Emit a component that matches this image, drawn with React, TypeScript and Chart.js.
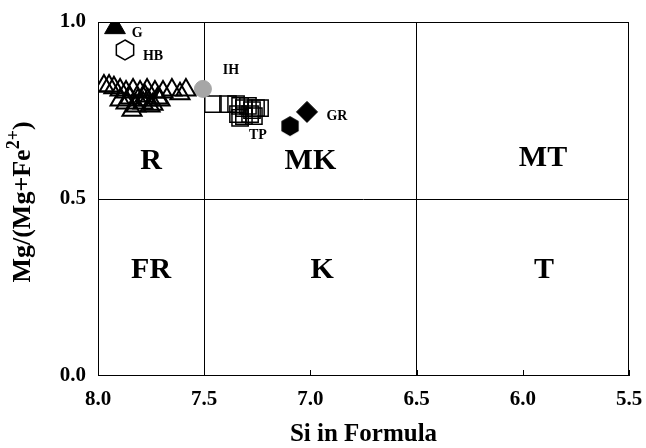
import React, { useEffect, useRef } from "react";
import { Chart, registerables } from "chart.js";

Chart.register(...registerables);

// ---- axes ----
const xTickValues = [8.0, 7.5, 7.0, 6.5, 6.0, 5.5];
const yTickValues = [0.0, 0.5, 1.0];
const xDividers = [7.5, 6.5];
const yDividers = [0.5];
const xTitle = "Si in Formula";
const yTitleMain = "Mg/(Mg+Fe";
const yTitleSup = "2+";
const yTitleEnd = ")";

// ---- data (Si in formula, Mg/(Mg+Fe2+)) ----
const triSi = [7.972, 7.948, 7.925, 7.896, 7.868, 7.835, 7.802, 7.769, 7.732, 7.694, 7.652, 7.614, 7.586, 7.896, 7.868, 7.84, 7.812, 7.788, 7.765, 7.741, 7.718, 7.849, 7.821, 7.779, 7.755, 7.708];
const triMg = [0.819, 0.819, 0.814, 0.808, 0.802, 0.808, 0.802, 0.808, 0.802, 0.802, 0.808, 0.797, 0.808, 0.78, 0.771, 0.751, 0.78, 0.771, 0.78, 0.768, 0.785, 0.785, 0.763, 0.791, 0.763, 0.78];

const sqSi = [7.459, 7.388, 7.35, 7.331, 7.313, 7.294, 7.275, 7.256, 7.237, 7.331, 7.341, 7.313, 7.284, 7.266];
const sqMg = [0.768, 0.768, 0.768, 0.763, 0.757, 0.763, 0.751, 0.757, 0.757, 0.729, 0.74, 0.734, 0.74, 0.734];

const gSi = [7.92];
const gMg = [0.984];
const hbSi = [7.873];
const hbMg = [0.921];
const ihSi = [7.506];
const ihMg = [0.811];
const hexSi = [7.096];
const hexMg = [0.706];
const grSi = [7.016];
const grMg = [0.746];

// ---- annotation labels ----
const pointLabels = ["G", "HB", "IH", "TP", "GR"];
const pointLabelSi = [7.816, 7.741, 7.374, 7.247, 6.875];
const pointLabelMg = [0.969, 0.904, 0.862, 0.681, 0.732];

const fieldLabels = ["R", "MK", "MT", "FR", "K", "T"];
const fieldLabelSi = [7.75, 7.0, 5.905, 7.75, 6.945, 5.9];
const fieldLabelMg = [0.608, 0.608, 0.616, 0.299, 0.299, 0.299];

const SERIF = '"Liberation Serif", "Times New Roman", serif';

function zip(xs: number[], ys: number[]) {
  return xs.map((x, i) => ({ x, y: ys[i] }));
}

function makeHexagon(r: number, filled: boolean): HTMLCanvasElement {
  const c = document.createElement("canvas");
  const size = Math.ceil(r * 2 + 4);
  c.width = size;
  c.height = size;
  const ctx = c.getContext("2d")!;
  const cx = size / 2;
  const cy = size / 2;
  ctx.beginPath();
  for (let i = 0; i < 6; i++) {
    const a = (Math.PI / 3) * i - Math.PI / 2;
    const px = cx + r * Math.cos(a);
    const py = cy + r * Math.sin(a);
    if (i === 0) ctx.moveTo(px, py);
    else ctx.lineTo(px, py);
  }
  ctx.closePath();
  if (filled) {
    ctx.fillStyle = "#000";
    ctx.fill();
  } else {
    ctx.lineWidth = 1.5;
    ctx.strokeStyle = "#000";
    ctx.stroke();
  }
  return c;
}

const decorPlugin = {
  id: "decor",
  beforeDatasetsDraw(chart: any) {
    const { ctx, chartArea } = chart;
    const xs = chart.scales.x;
    ctx.save();
    ctx.strokeStyle = "#000";
    ctx.lineWidth = 1;
    ctx.strokeRect(chartArea.left + 0.5, chartArea.top + 0.5, chartArea.right - chartArea.left - 1, chartArea.bottom - chartArea.top - 1);
    // inner tick marks on bottom axis
    xTickValues.forEach((v) => {
      const px = Math.round(xs.getPixelForValue(v)) + 0.5;
      ctx.beginPath();
      ctx.moveTo(px, chartArea.bottom);
      ctx.lineTo(px, chartArea.bottom - 6);
      ctx.stroke();
    });
    ctx.restore();
  },
  afterDatasetsDraw(chart: any) {
    const { ctx } = chart;
    const xs = chart.scales.x;
    const ys = chart.scales.y;
    const area = chart.chartArea;
    ctx.save();
    ctx.fillStyle = "#000";
    ctx.textAlign = "center";
    ctx.textBaseline = "middle";
    ctx.font = `bold 14px ${SERIF}`;
    pointLabels.forEach((t, i) => {
      ctx.fillText(t, xs.getPixelForValue(pointLabelSi[i]), ys.getPixelForValue(pointLabelMg[i]));
    });
    ctx.font = `bold 30px ${SERIF}`;
    fieldLabels.forEach((t, i) => {
      ctx.fillText(t, xs.getPixelForValue(fieldLabelSi[i]), ys.getPixelForValue(fieldLabelMg[i]));
    });
    // x axis title
    ctx.font = `bold 25px ${SERIF}`;
    ctx.textBaseline = "alphabetic";
    ctx.fillText(xTitle, (area.left + area.right) / 2, 441);
    // y axis title with superscript
    ctx.translate(24, 202);
    ctx.rotate(-Math.PI / 2);
    const mainFont = `bold 26px ${SERIF}`;
    const supFont = `bold 18px ${SERIF}`;
    ctx.font = mainFont;
    const w1 = ctx.measureText(yTitleMain).width;
    const w3 = ctx.measureText(yTitleEnd).width;
    ctx.font = supFont;
    const w2 = ctx.measureText(yTitleSup).width;
    const total = w1 + w2 + w3;
    let x0 = -total / 2;
    ctx.textAlign = "left";
    ctx.font = mainFont;
    ctx.fillText(yTitleMain, x0, 6);
    x0 += w1;
    ctx.font = supFont;
    ctx.fillText(yTitleSup, x0, -5);
    x0 += w2;
    ctx.font = mainFont;
    ctx.fillText(yTitleEnd, x0, 6);
    ctx.restore();
  },
};

export default function App() {
  const canvasRef = useRef<HTMLCanvasElement | null>(null);

  useEffect(() => {
    if (!canvasRef.current) return;
    const hexOpen = makeHexagon(10, false);
    const hexFilled = makeHexagon(10, true);
    const chart = new Chart(canvasRef.current, {
      type: "scatter",
      data: {
        datasets: [
          {
            label: "open triangles",
            data: zip(triSi, triMg),
            pointStyle: "triangle",
            pointRadius: 11,
            backgroundColor: "rgba(0,0,0,0)",
            borderColor: "#000",
            borderWidth: 2,
          },
          {
            label: "G",
            data: zip(gSi, gMg),
            pointStyle: "triangle",
            pointRadius: 12,
            backgroundColor: "#000",
            borderColor: "#000",
            borderWidth: 1,
          },
          {
            label: "HB",
            data: zip(hbSi, hbMg),
            pointStyle: hexOpen as any,
            pointRadius: 10,
          },
          {
            label: "IH",
            data: zip(ihSi, ihMg),
            pointStyle: "circle",
            pointRadius: 8.5,
            backgroundColor: "#a6a6a6",
            borderColor: "#a6a6a6",
            borderWidth: 1,
          },
          {
            label: "TP",
            data: zip(sqSi, sqMg),
            pointStyle: "rect",
            pointRadius: 11.5,
            backgroundColor: "rgba(0,0,0,0)",
            borderColor: "#000",
            borderWidth: 1.5,
          },
          {
            label: "hex",
            data: zip(hexSi, hexMg),
            pointStyle: hexFilled as any,
            pointRadius: 10,
          },
          {
            label: "GR",
            data: zip(grSi, grMg),
            pointStyle: "rectRot",
            pointRadius: 10.5,
            backgroundColor: "#000",
            borderColor: "#000",
            borderWidth: 1,
          },
        ],
      },
      options: {
        responsive: false,
        animation: false,
        devicePixelRatio: 1,
        layout: { padding: { left: 0, right: 17, top: 22, bottom: 0 } },
        plugins: {
          legend: { display: false },
          tooltip: { enabled: false },
        },
        scales: {
          x: {
            type: "linear",
            reverse: true,
            min: 5.5,
            max: 8.0,
            afterBuildTicks: (axis: any) => {
              axis.ticks = xTickValues.map((v) => ({ value: v }));
            },
            afterFit: (axis: any) => {
              axis.height = 72;
              axis.paddingLeft = 0;
              axis.paddingRight = 0;
            },
            ticks: {
              color: "#000",
              font: { family: SERIF, size: 21, weight: "bold" },
              padding: 11,
              maxRotation: 0,
              autoSkip: false,
              callback: (v: any) => Number(v).toFixed(1),
            },
            grid: {
              drawTicks: false,
              color: (c: any) => (c.tick && xDividers.includes(c.tick.value) ? "#000" : "rgba(0,0,0,0)"),
              lineWidth: 1,
            },
            border: { display: false },
            title: { display: false },
          },
          y: {
            type: "linear",
            min: 0,
            max: 1,
            afterBuildTicks: (axis: any) => {
              axis.ticks = yTickValues.map((v) => ({ value: v }));
            },
            afterFit: (axis: any) => {
              axis.width = 98;
              axis.paddingTop = 0;
              axis.paddingBottom = 0;
            },
            ticks: {
              color: "#000",
              font: { family: SERIF, size: 21, weight: "bold" },
              padding: 12,
              autoSkip: false,
              callback: (v: any) => Number(v).toFixed(1),
            },
            grid: {
              drawTicks: false,
              color: (c: any) => (c.tick && yDividers.includes(c.tick.value) ? "#000" : "rgba(0,0,0,0)"),
              lineWidth: 1,
            },
            border: { display: false },
          },
        },
      },
      plugins: [decorPlugin],
    } as any);
    return () => chart.destroy();
  }, []);

  return (
    <div style={{ position: "absolute", left: 0, top: 0, width: 646, height: 448, background: "#fff" }}>
      <canvas ref={canvasRef} width={646} height={448} style={{ display: "block" }} />
    </div>
  );
}
